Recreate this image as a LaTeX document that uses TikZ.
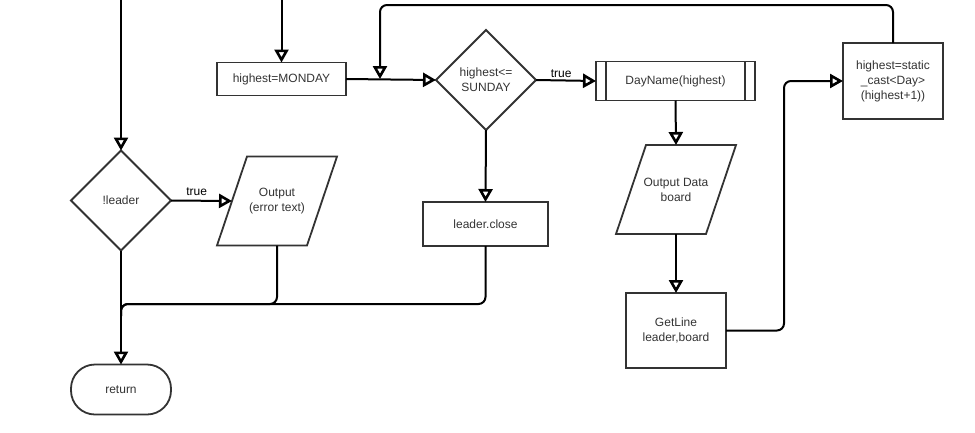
\documentclass[tikz,border=0pt]{standalone}
\usepackage{fontspec}
\setmainfont{Liberation Sans}
\usetikzlibrary{arrows.meta,shapes.geometric,calc}
\definecolor{boxline}{HTML}{333333}
\definecolor{txt}{HTML}{333333}
\begin{document}
\begin{tikzpicture}[x=1pt,y=-1pt,
  every node/.style={font=\fontsize{12}{15}\selectfont, text=txt, align=center, inner sep=0pt, outer sep=0pt},
  shapebox/.style={draw=boxline, line width=1.8pt},
  procbox/.style={shapebox, rectangle},
  decision/.style={shapebox, diamond, minimum width=100pt, minimum height=100pt},
  iobody/.style={rectangle, minimum width=90pt, minimum height=89pt},
  iooutline/.style={shapebox, line join=miter},
  terminal/.style={shapebox, rectangle, rounded corners=24pt, minimum width=100pt, minimum height=50pt},
  flow/.style={draw=black, line width=2pt, rounded corners=7pt},
  flowarrow/.style={flow, -{Triangle[width=14pt, length=13pt, fill=white, line width=2.6pt]}},
  edgelabel/.style={font=\fontsize{12}{14}\selectfont, text=black}
]
\useasboundingbox (0,0) rectangle (975,432);

% ---- nodes ----
\node[decision] (leader) at (121,200.5) {!leader};
\node[iobody] (err) at (277,201) {Output\\(error text)};
\node[terminal] (ret) at (121,389.5) {return};

\node[procbox, minimum width=129pt, minimum height=33pt] (monday) at (281.5,79) {highest=MONDAY};
\node[decision] (cond) at (486,80) {highest<=\\SUNDAY};
\node[procbox, minimum width=125pt, minimum height=44pt] (close) at (485.5,224) {leader.close};

\node[procbox, minimum width=159pt, minimum height=39pt] (day) at (675.5,81) {DayName(highest)};
\node[iobody] (outd) at (676,189.5) {Output Data\\board};
\node[procbox, minimum width=100pt, minimum height=75pt] (getl) at (676,330.5) {GetLine\\leader,board};
\node[procbox, minimum width=100pt, minimum height=76pt] (inc) at (893,81) {highest=static\\\_cast<Day>\\(highest+1))};

% parallelogram outlines around the I/O nodes
\foreach \n in {err,outd}{
  \draw[iooutline] ($(\n.south west)+(-15,0)$) -- ($(\n.north west)+(15,0)$)
    -- ($(\n.north east)+(15,0)$) -- ($(\n.south east)+(-15,0)$) -- cycle;
}
% side bars of the predefined process
\draw[shapebox] ($(day.north west)+(10,0)$) -- ($(day.south west)+(10,0)$);
\draw[shapebox] ($(day.north east)+(-10,0)$) -- ($(day.south east)+(-10,0)$);

% ---- free ends ----
\coordinate (inleft) at (121,0);
\coordinate (inmid) at (281.5,0);
\coordinate (merge) at (121,304);
\coordinate (loopjoin) at (380,79);

% ---- connectors ----
\draw[flowarrow] (inleft) -- (leader.north);
\draw[flowarrow] (leader.east) -- node[edgelabel, above=5pt, pos=0.42] {true} (err.west);
\draw[flowarrow] (leader.south) -- (ret.north);
\draw[flow] (err.south) |- (merge) -- ($(merge)+(0,12)$);
\draw[flow] (close.south) |- (merge) -- ($(merge)+(0,12)$);

\draw[flowarrow] (inmid) -- (monday.north);
\draw[flowarrow] (monday.east) -- (cond.west);
\draw[flowarrow] (cond.east) -- node[edgelabel, above=3pt, pos=0.42] {true} (day.west);
\draw[flowarrow] (cond.south) -- (close.north);

\draw[flowarrow] (day.south) -- (outd.north);
\draw[flowarrow] (outd.south) -- (getl.north);
\draw[flowarrow] (getl.east) -- (784,330.5) -- (784,81) -- (inc.west);
\draw[flowarrow] (inc.north) -- (893,5) -- (380,5) -- (loopjoin);
\end{tikzpicture}
\end{document}
